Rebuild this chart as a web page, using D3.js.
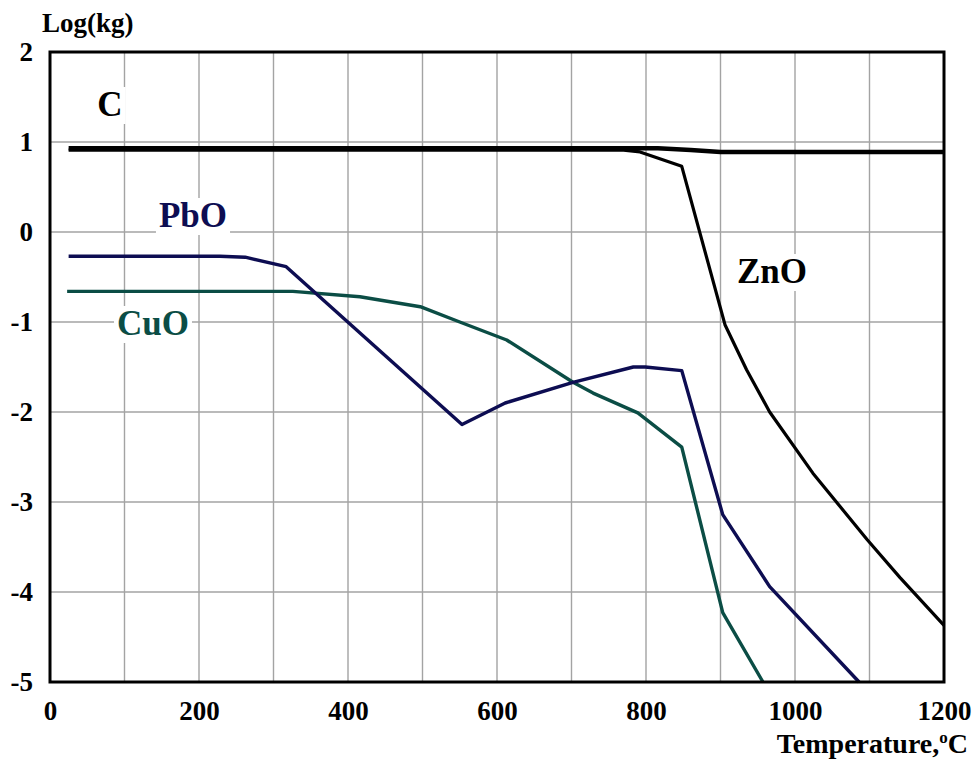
<!DOCTYPE html>
<html>
<head>
<meta charset="utf-8">
<script src="https://cdn.jsdelivr.net/npm/d3@7"></script>
<style>
  html, body { margin: 0; padding: 0; background: #fff; }
  svg { display: block; }
  text { font-family: "Liberation Serif", "Times New Roman", serif; font-weight: bold; }
</style>
</head>
<body>
<svg id="chart" width="976" height="762"></svg>
<script>
// Temperature (°C) and log10 of mass (kg) for each species
const cTemp   = [25, 816, 860, 900, 1200];
const cLog    = [0.93, 0.93, 0.91, 0.89, 0.89];

const znoTemp = [25, 770, 792, 848, 906, 935, 966, 1024, 1097, 1141, 1200];
const znoLog  = [0.91, 0.91, 0.89, 0.73, -1.03, -1.53, -2.0, -2.68, -3.42, -3.84, -4.37];

const pboTemp = [25, 228, 262, 317, 553, 611, 702, 783, 799, 848, 903, 966, 1086];
const pboLog  = [-0.27, -0.27, -0.28, -0.385, -2.14, -1.90, -1.67, -1.50, -1.50, -1.54, -3.14, -3.94, -5.0];

const cuoTemp = [23, 326, 416, 497, 550, 613, 702, 729, 789, 848, 903, 957];
const cuoLog  = [-0.66, -0.66, -0.72, -0.83, -1.0, -1.2, -1.67, -1.79, -2.01, -2.39, -4.23, -5.0];

const xTicks = [0, 200, 400, 600, 800, 1000, 1200];
const yTicks = [2, 1, 0, -1, -2, -3, -4, -5];
const xGrid  = d3.range(100, 1200, 100);
const yGrid  = [1, 0, -1, -2, -3, -4];

const svg = d3.select("#chart");
const plotL = 50, plotR = 944, plotT = 52, plotB = 682;

const x = d3.scaleLinear().domain([0, 1200]).range([plotL, plotR]);
const y = d3.scaleLinear().domain([-5, 2]).range([plotB, plotT]);

// grid
svg.append("g").selectAll("line").data(xGrid).join("line")
  .attr("x1", d => x(d)).attr("x2", d => x(d))
  .attr("y1", plotT).attr("y2", plotB)
  .attr("stroke", "#a3a3a3").attr("stroke-width", 1.4);
svg.append("g").selectAll("line").data(yGrid).join("line")
  .attr("x1", plotL).attr("x2", plotR)
  .attr("y1", d => y(d)).attr("y2", d => y(d))
  .attr("stroke", "#a3a3a3").attr("stroke-width", 1.4);

// series
const line = d3.line().x(d => x(d[0])).y(d => y(d[1]));
const series = [
  { t: cuoTemp, v: cuoLog, color: "#0b4d45", w: 3.4 },
  { t: pboTemp, v: pboLog, color: "#0d0d52", w: 3.4 },
  { t: znoTemp, v: znoLog, color: "#000000", w: 3.2 },
  { t: cTemp,   v: cLog,   color: "#000000", w: 4.5 }
];
svg.append("g").selectAll("path").data(series).join("path")
  .attr("d", s => line(s.t.map((t, i) => [t, s.v[i]])))
  .attr("fill", "none")
  .attr("stroke", s => s.color)
  .attr("stroke-width", s => s.w)
  .attr("stroke-linejoin", "round");

// frame
svg.append("rect")
  .attr("x", plotL).attr("y", plotT)
  .attr("width", plotR - plotL).attr("height", plotB - plotT)
  .attr("fill", "none").attr("stroke", "#000").attr("stroke-width", 3);

// axes
const yAxis = svg.append("g").attr("transform", `translate(${plotL},0)`)
  .call(d3.axisLeft(y).tickValues(yTicks).tickSize(0).tickPadding(17).tickFormat(d3.format("d")));
const xAxis = svg.append("g").attr("transform", `translate(0,${plotB})`)
  .call(d3.axisBottom(x).tickValues(xTicks).tickSize(0).tickPadding(19).tickFormat(d3.format("d")));
[yAxis, xAxis].forEach(a => {
  a.select(".domain").remove();
  a.selectAll("text")
    .attr("fill", "#000")
    .style("font-family", "'Liberation Serif', 'Times New Roman', serif")
    .style("font-weight", "bold")
    .style("font-size", "27px")
    .text(d => d < 0 ? "-" + Math.abs(d) : d);
});

// axis titles
svg.append("text").attr("x", 42).attr("y", 32)
  .style("font-size", "27px").attr("fill", "#000").text("Log(kg)");
const tt = svg.append("text").attr("x", 968).attr("y", 753)
  .attr("text-anchor", "end").style("font-size", "28px").attr("fill", "#000");
tt.append("tspan").text("Temperature,");
tt.append("tspan").attr("dy", -10).style("font-size", "17px").text("o");
tt.append("tspan").attr("dy", 10).text("C");

// series labels on white patches
const labels = [
  { text: "C",   cx: 110, base: 116, color: "#000000" },
  { text: "PbO", cx: 193, base: 227, color: "#0d0d52" },
  { text: "CuO", cx: 153, base: 335, color: "#0b4d45" },
  { text: "ZnO", cx: 772, base: 283, color: "#000000" }
];
const lg = svg.append("g");
labels.forEach(l => {
  const g = lg.append("g");
  const bg = g.append("rect").attr("fill", "#fff");
  const t = g.append("text").attr("x", l.cx).attr("y", l.base)
    .attr("text-anchor", "middle").style("font-size", "35px")
    .attr("fill", l.color).text(l.text);
  const b = t.node().getBBox();
  bg.attr("x", b.x - 3).attr("y", b.y + 2).attr("width", b.width + 6).attr("height", b.height - 2);
});
</script>
</body>
</html>
